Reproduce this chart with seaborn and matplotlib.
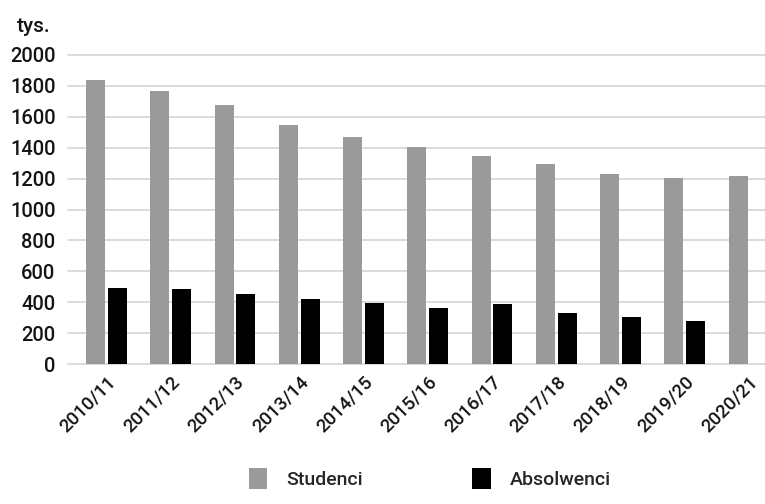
import matplotlib
matplotlib.use("Agg")
import matplotlib.pyplot as plt
import seaborn as sns
import pandas as pd
import numpy as np
from matplotlib.patches import Patch

# Academic years
years = ["2010/11", "2011/12", "2012/13", "2013/14", "2014/15", "2015/16",
         "2016/17", "2017/18", "2018/19", "2019/20", "2020/21"]
# Students (thousands)
studenci = [1840, 1765, 1677, 1550, 1469, 1405, 1348, 1292, 1230, 1204, 1218]
# Graduates (thousands); no figure yet for the last year
absolwenci = [495, 485, 452, 422, 393, 365, 386, 327, 305, 277, np.nan]
y_ticks = [0, 200, 400, 600, 800, 1000, 1200, 1400, 1600, 1800, 2000]

series_names = ["Studenci", "Absolwenci"]
colors = {"Studenci": "#9a9a9a", "Absolwenci": "#000000"}

df = pd.DataFrame({
    "rok": years * 2,
    "seria": ["Studenci"] * len(years) + ["Absolwenci"] * len(years),
    "wartosc": studenci + absolwenci,
})

sns.set_theme(style="white")
plt.rcParams["font.family"] = ["Roboto", "DejaVu Sans"]
plt.rcParams["font.weight"] = "medium"
text_color = "#141414"

fig = plt.figure(figsize=(7.65, 5.04), dpi=100)
ax = fig.add_axes([68 / 765, 140 / 504, 1 - 68 / 765, 309 / 504])

sns.barplot(data=df, x="rok", y="wartosc", hue="seria", hue_order=series_names,
            palette=colors, width=0.68, gap=0.13, ax=ax, legend=False,
            linewidth=0, saturation=1)

ax.set_ylim(0, 2000)
ax.set_xlim(-0.6, 10.25)
ax.set_yticks(y_ticks)
ax.set_yticklabels([str(v) for v in y_ticks], fontsize=14.5, color=text_color,
                   fontweight="medium")
ax.set_xlabel("")
ax.set_ylabel("")
ax.tick_params(axis="y", length=0, pad=9)
ax.tick_params(axis="x", length=0, pad=6)
for lab in ax.get_xticklabels():
    lab.set_rotation(45)
    lab.set_ha("right")
    lab.set_rotation_mode("anchor")
    lab.set_fontsize(13.5)
    lab.set_fontweight("medium")
    lab.set_color(text_color)

ax.set_axisbelow(True)
ax.yaxis.grid(True, color="#d4d4d4", linewidth=1.2)
for gl in ax.get_ygridlines():
    gl.set_clip_on(False)
for s in ax.spines.values():
    s.set_visible(False)

fig.text(17 / 765, 1 - 26 / 504, "tys.", fontsize=15, va="center", ha="left",
         color=text_color, fontweight="medium")

handles = [Patch(facecolor=colors[n], edgecolor="none", label=n) for n in series_names]
fig.legend(handles=handles, loc="lower center", bbox_to_anchor=(0.562, -0.005),
           ncol=2, frameon=False, handlelength=0.95, handleheight=1.3,
           handletextpad=1.0, columnspacing=5.6,
           prop={"size": 14, "weight": "medium"})

fig.savefig("out.png", dpi=100, facecolor="white")
